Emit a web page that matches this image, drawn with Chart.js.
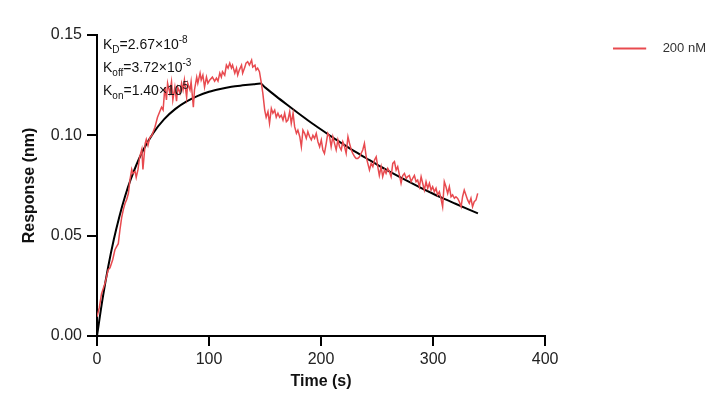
<!DOCTYPE html>
<html>
<head>
<meta charset="utf-8">
<script src="https://cdn.jsdelivr.net/npm/chart.js@4"></script>
<style>
  html, body { margin: 0; padding: 0; background: #fff; }
  #wrap { width: 728px; height: 412px; }
</style>
</head>
<body>
<div id="wrap"><canvas id="kinetics"></canvas></div>
<script>
// measured trace, 200 nM
const redTime = [0,2,4,7,10,11.6,14,16,17.5,19,20.5,22,23.5,25,26.5,28,29.5,31,32,34,35,36.6,38,40,41,43,44,45.5,47,49,
  51.7,54,57.6,59,60.6,62,63,65,66.5,67.7,69.5,71,72,74,75.5,76.8,78,80,81,83,84,86,87,89,90,92,93,94.5,96,97.7,99,
  100.7,103,105,106.6,108,109.6,111,112,114,115.5,117,118.5,120,121,123,124.5,125.6,127,129,130,132,133,134.5,136,138,139,141,142,143.4,145,
  146.7,148,149.7,151,152.6,154,155.6,157,158.6,160,161.5,163,164.5,166,167.5,169,170.4,172,173.4,175,176.4,178,179.3,181,182.4,183.8,185.3,186.8,188.2,189.8,
  191.3,192.7,194.2,195.7,197.2,198.7,200.2,201.6,203,204.6,206,207.6,209,210.5,212,213.5,215,216.5,218,219.4,221,222.4,224,225.4,227,228.3,230,231.3,232.8,234.3,
  237.2,238.7,240.3,241.7,243.2,244.7,246.2,247.7,249.2,250.6,252,253.6,255,256.6,258,259.5,261,262.5,264,265.5,267,268.4,270,271.4,272.9,274.4,276,277.3,278.8,
  280.4,281.8,283.3,284.8,286.2,287.8,289.3,290.7,292.2,293.7,295.2,296.7,298.2,299.6,301.1,302.6,304,305.6,307,308.5,310,311.5,313,314.5,316,317.4,319,320.4,
  321.9,323.4,325,326.3,327.8,329.3,330.8,332.3,333.8,335.2,336.7,338.3,339.8];
const redResp = [0.0096,0.014,0.021,0.026,0.033,0.034,0.038,0.043,0.0445,0.046,0.053,0.059,0.063,0.066,0.068,0.071,0.078,0.083,0.081,0.082,0.079,0.083,0.089,0.093,0.083,0.096,0.098,0.095,0.0987,0.100,
  0.104,0.109,0.114,0.1126,0.124,0.1176,0.126,0.121,0.1267,0.1176,0.124,0.117,0.124,0.121,0.126,0.1226,0.1276,0.119,0.126,0.1226,0.1267,0.114,0.1226,0.129,0.126,0.131,0.1276,0.130,0.124,0.129,0.126,
  0.1276,0.129,0.127,0.1285,0.127,0.131,0.129,0.1317,0.130,0.135,0.1335,0.136,0.1335,0.135,0.131,0.1335,0.130,0.1325,0.135,0.131,0.134,0.136,0.1367,0.135,0.1375,0.134,0.135,0.1325,0.1335,0.1317,
  0.126,0.121,0.1126,0.109,0.1118,0.106,0.1134,0.111,0.1126,0.109,0.111,0.109,0.110,0.1076,0.111,0.1068,0.1076,0.1118,0.106,0.111,0.1043,0.101,0.1026,0.0993,0.0943,0.1026,0.101,0.0985,0.1018,0.0993,
  0.0977,0.100,0.0985,0.101,0.0968,0.0943,0.0977,0.0927,0.091,0.096,0.101,0.0993,0.0943,0.0993,0.096,0.0927,0.0977,0.0943,0.0927,0.0968,0.0943,0.091,0.0993,0.096,0.0927,0.091,0.0893,0.0885,0.0885,0.0893,
  0.0927,0.096,0.0893,0.086,0.0827,0.086,0.0844,0.0877,0.0893,0.0844,0.080,0.0844,0.0794,0.0827,0.081,0.0835,0.0819,0.0794,0.086,0.0869,0.0827,0.0844,0.080,0.0761,0.080,0.081,0.0786,0.0794,0.080,
  0.0769,0.0786,0.080,0.0769,0.0777,0.0744,0.0794,0.0761,0.0727,0.0769,0.0736,0.0761,0.0727,0.0744,0.0719,0.0736,0.0703,0.0719,0.0686,0.0644,0.0769,0.0744,0.0711,0.0744,0.0694,0.0703,0.0686,0.0694,
  0.0686,0.0669,0.0644,0.0694,0.0727,0.0703,0.0678,0.0661,0.0686,0.0644,0.0669,0.0678,0.0711];

// global fit curve
const fitTime = [0,5,10,15,20,25,30,40,50,60,70,80,90,100,110,120,130,140,146,150,160,170,180,190,200,210,220,230,240,250,260,270,280,290,300,310,320,330,340];
const fitResp = [0,0.0186,0.0345,0.0481,0.0596,0.0695,0.0779,0.0913,0.1010,0.1081,0.1132,0.1169,0.1197,0.1217,0.1231,0.1242,0.1249,0.1255,0.1258,
  0.1239,0.1194,0.1151,0.1109,0.1068,0.1029,0.0991,0.0955,0.0920,0.0887,0.0854,0.0823,0.0793,0.0764,0.0736,0.0709,0.0683,0.0659,0.0635,0.0611];

const xTicks = [0, 100, 200, 300, 400];
const yTicks = [0, 0.05, 0.10, 0.15];
const seriesLabel = '200 nM';

// kinetic constants: [main, subscript, value, exponent]
const constants = [
  ['K', 'D', '=2.67\u00d710', '-8'],
  ['K', 'off', '=3.72\u00d710', '-3'],
  ['K', 'on', '=1.40\u00d710', '5']
];

const zip = (xs, ys) => xs.map((x, i) => ({x: x, y: ys[i]}));

const red = '#E84A4F';

// legend swatch: 33px line, extra room before the label
const swatch = document.createElement('canvas');
swatch.width = 43; swatch.height = 4;
(function () {
  const c = swatch.getContext('2d');
  c.fillStyle = red;
  c.fillRect(0, 1, 33, 2);
})();

const constText = {
  id: 'constText',
  afterDatasetsDraw(chart) {
    const ctx = chart.ctx;
    const left = chart.chartArea.left + 6;
    ctx.save();
    ctx.fillStyle = '#111';
    ctx.textBaseline = 'alphabetic';
    ctx.textAlign = 'left';
    constants.forEach((c, i) => {
      let x = left;
      const y = 49 + i * 23;
      ctx.font = '14px Arial, "Liberation Sans"';
      ctx.fillText(c[0], x, y); x += ctx.measureText(c[0]).width;
      ctx.font = '10px Arial, "Liberation Sans"';
      ctx.fillText(c[1], x, y + 4); x += ctx.measureText(c[1]).width;
      ctx.font = '14px Arial, "Liberation Sans"';
      ctx.fillText(c[2], x, y); x += ctx.measureText(c[2]).width;
      ctx.font = '10px Arial, "Liberation Sans"';
      ctx.fillText(c[3], x, y - 6);
    });
    ctx.restore();
  }
};

const axisFont = {family: 'Arial, "Liberation Sans"', size: 16};
const titleFont = {family: 'Arial, "Liberation Sans"', size: 16, weight: 'bold'};

new Chart(document.getElementById('kinetics'), {
  type: 'scatter',
  data: {
    datasets: [
      {
        label: seriesLabel,
        data: zip(redTime, redResp),
        showLine: true,
        borderColor: red,
        backgroundColor: red,
        borderWidth: 1.5,
        pointRadius: 0,
        pointStyle: swatch,
        tension: 0
      },
      {
        label: 'fit',
        data: zip(fitTime, fitResp),
        showLine: true,
        borderColor: '#000',
        borderWidth: 2,
        pointRadius: 0,
        cubicInterpolationMode: 'monotone'
      }
    ]
  },
  options: {
    responsive: true,
    maintainAspectRatio: false,
    animation: false,
    layout: { padding: { top: 35, right: 12, bottom: 0, left: 0 } },
    scales: {
      x: {
        type: 'linear',
        min: 0, max: 400,
        afterBuildTicks: (s) => { s.ticks = xTicks.map(v => ({value: v})); },
        afterFit: (s) => { s.height = 76; },
        grid: { display: true, drawOnChartArea: false, drawTicks: true, tickLength: 10, color: '#000', lineWidth: 2 },
        border: { display: true, color: '#000', width: 2 },
        ticks: { color: '#222', font: axisFont, padding: 4, maxRotation: 0 },
        title: { display: true, text: 'Time (s)', color: '#111', font: titleFont, padding: { top: 0, bottom: 21 } }
      },
      y: {
        min: 0, max: 0.15,
        afterBuildTicks: (s) => { s.ticks = yTicks.map(v => ({value: v})); },
        afterFit: (s) => { s.width = 97; },
        grid: { display: true, drawOnChartArea: false, drawTicks: true, tickLength: 10, color: '#000', lineWidth: 2 },
        border: { display: true, color: '#000', width: 2 },
        ticks: { color: '#222', font: axisFont, padding: 5, callback: (v) => Number(v).toFixed(2) },
        title: { display: true, text: 'Response (nm)', color: '#111', font: titleFont, padding: { top: 20, bottom: 0 } }
      },
      gap: {
        type: 'linear',
        position: 'right',
        display: true,
        afterFit: (s) => { s.width = 61; },
        grid: { display: false },
        border: { display: false },
        ticks: { display: false }
      }
    },
    plugins: {
      legend: {
        display: true,
        position: 'right',
        align: 'start',
        fullSize: false,
        labels: {
          filter: (item) => item.text === seriesLabel,
          color: '#333',
          font: { family: 'Arial, "Liberation Sans"', size: 13 },
          usePointStyle: true,
          pointStyleWidth: 43,
          padding: 7
        }
      },
      tooltip: { enabled: false }
    }
  },
  plugins: [constText]
});
</script>
</body>
</html>
